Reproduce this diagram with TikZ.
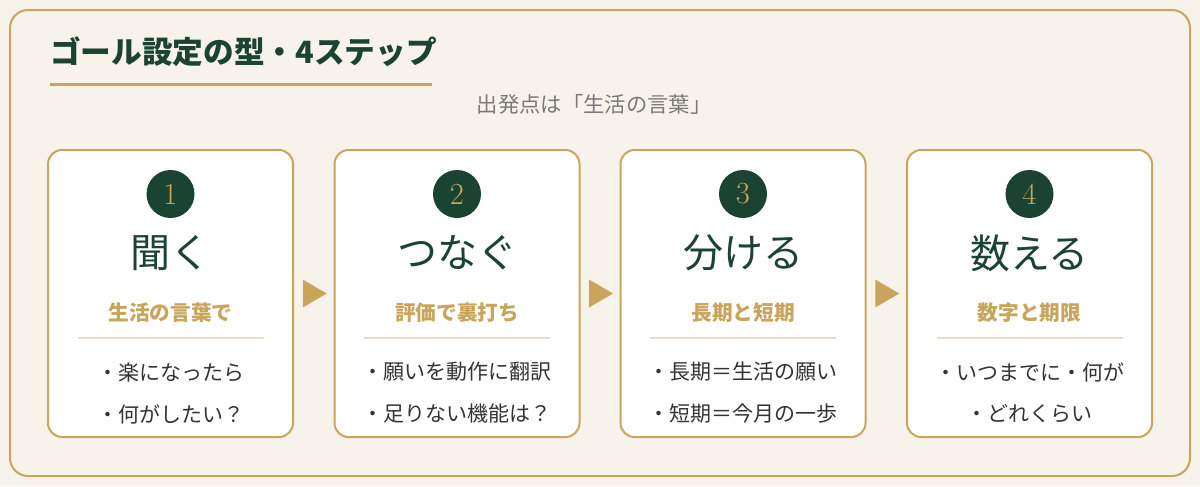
\documentclass[tikz,border=0pt]{standalone}
\usepackage{fontspec}
\setmainfont{Latin Modern Roman}
\newfontfamily\jp{Noto Sans CJK JP}
\usetikzlibrary{calc}
\definecolor{bgc}{HTML}{F7F2EA}
\definecolor{gold}{HTML}{C9A55C}
\definecolor{dgreen}{HTML}{1B4332}
\definecolor{divc}{HTML}{E8DDCB}
\definecolor{txt}{HTML}{333333}
\definecolor{subg}{HTML}{7A7A7A}
\newcommand{\fs}[1]{\fontsize{#1}{#1}\selectfont}
\tikzset{
  card/.style={draw=gold, line width=1.5pt, fill=white, rounded corners=10.5pt,
    minimum width=183.75pt, minimum height=215.25pt, inner sep=0pt},
  numdisc/.style={circle, fill=dgreen, minimum size=36pt, inner sep=0pt,
    text=gold, font=\fs{23pt}},
  bigword/.style={text=dgreen, font=\jp\fs{30pt}, inner sep=0pt},
  goldlabel/.style={text=gold, font=\jp\bfseries\fs{15.5pt}, inner sep=0pt},
  bullet/.style={text=txt, font=\jp\fs{15.75pt}, inner sep=0pt},
  divline/.style={draw=divc, line width=1.2pt},
  flowtri/.style={fill=gold}
}
\begin{document}
\begin{tikzpicture}[x=0.75pt, y=-0.75pt]
\useasboundingbox (0,0) rectangle (1200,486);
\fill[bgc] (0,0) rectangle (1200,486);
\draw[gold, line width=1.5pt, rounded corners=13.5pt, fill=bgc] (10,10) rectangle (1190,476);
% title
\node[anchor=west, text=dgreen, font=\jp\bfseries\fs{23pt}, inner sep=0pt] (title) at (50,52) {ゴール設定の型・4ステップ};
\draw[gold, line width=2.25pt] (50,84) -- (432,84);
\node[text=subg, font=\jp\fs{16pt}, inner sep=0pt] (sub) at (594,104) {出発点は「生活の言葉」};
% cards
\foreach \i/\cx/\num/\word/\lab/\bA/\bB in {
  1/170.5/1/聞く/生活の言葉で/・楽になったら/・何がしたい？,
  2/457/2/つなぐ/評価で裏打ち/・願いを動作に翻訳/・足りない機能は？,
  3/743/3/分ける/長期と短期/・長期＝生活の願い/・短期＝今月の一歩,
  4/1029.5/4/数える/数字と期限/・いつまでに・何が/・どれくらい}{
  \node[card] (card\i) at (\cx,293.5) {};
  \node[numdisc] (num\i) at (\cx,194) {\num};
  \node[bigword] (word\i) at (\cx,253) {\word};
  \node[goldlabel] (lab\i) at (\cx,313) {\lab};
  \draw[divline] (\cx-93,338) -- (\cx+93,338);
  \node[bullet] (ba\i) at (\cx,372) {\bA};
  \node[bullet] (bb\i) at (\cx,414) {\bB};
}
% flow triangles
\foreach \a/\b in {1/2,2/3,3/4}{
  \coordinate (m\a) at ($(card\a.east)!0.5!(card\b.west)$);
  \fill[flowtri] ($(m\a)+(-11,-14)$) -- ($(m\a)+(13,0)$) -- ($(m\a)+(-11,14)$) -- cycle;
}
\end{tikzpicture}
\end{document}
